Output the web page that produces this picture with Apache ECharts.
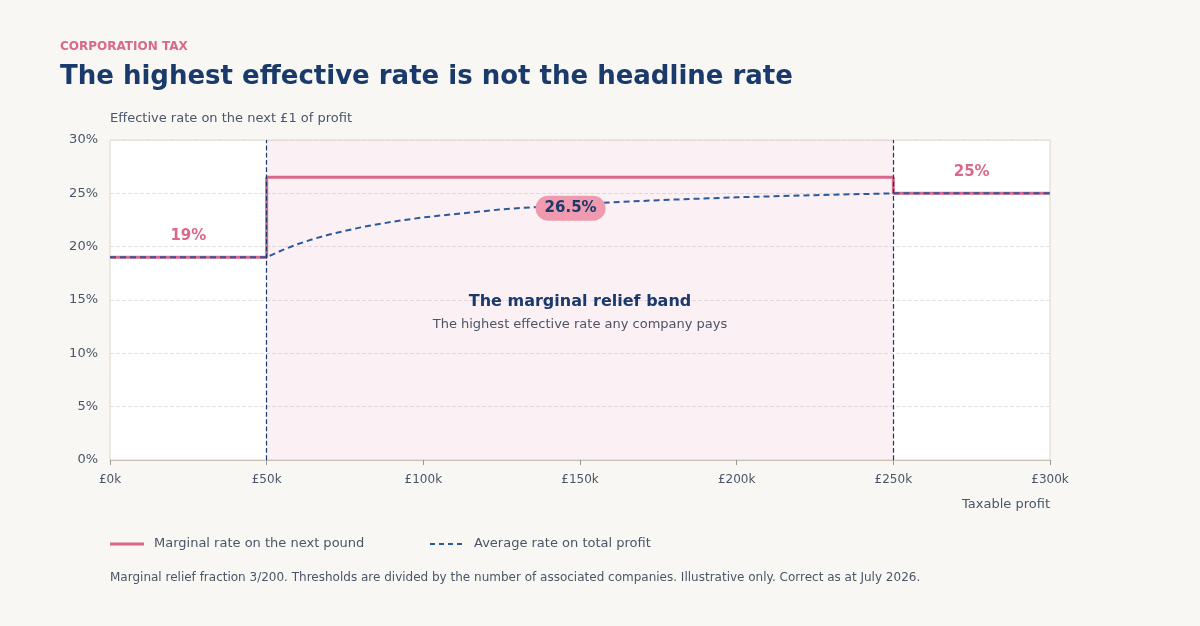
<!DOCTYPE html>
<html><head><meta charset="utf-8">
<script src="https://cdn.jsdelivr.net/npm/echarts@6/dist/echarts.min.js"></script>
<style>html,body{margin:0;background:#f9f7f3}#c{width:1200px;height:626px}</style>
</head><body><div id="c"></div>
<script>
const xTicks = [0, 50, 100, 150, 200, 250, 300];
const marginal = [[0,19],[50,19],[50,26.5],[250,26.5],[250,25],[300,25]];
const average = [[0,19],[50,19],[55,19.68],[60,20.25],[65,20.73],[70,21.14],[80,21.81],[90,22.33],[100,22.75],[125,23.5],[150,24.0],[175,24.36],[200,24.63],[225,24.83],[250,25.0],[300,25.0]];
const thresholds = [50, 250];
const rateLabels = [[25,21,'19%'],[275,27,'25%']];
const peakLabel = [147,23.6,'26.5%'];
const bandText = [[150,14.8,'The marginal relief band','b'],[150,12.7,'The highest effective rate any company pays','s']];

const ch = echarts.init(document.getElementById('c'));
const grey = '#4a5568', navy = '#1a3a6b', pink = '#d9698a', blue = '#2a5a9a';
const FF = 'DejaVu Sans';
const T = (o)=>Object.assign({fontFamily:FF},o);
ch.setOption({
  backgroundColor:'#f9f7f3',
  animation:false,
  textStyle:{fontFamily:FF},
  grid:{left:110,right:150,top:140,bottom:166,show:true,backgroundColor:'#fff',borderColor:'#ddd6c8',borderWidth:1},
  graphic:[
    {type:'text',left:60,top:41,style:T({text:'CORPORATION TAX',fill:pink,fontWeight:'bold',fontSize:12,letterSpacing:1.5})},
    {type:'text',left:60,top:64,style:T({text:'The highest effective rate is not the headline rate',fill:navy,fontWeight:'bold',fontSize:26})},
    {type:'text',left:110,top:112,style:T({text:'Effective rate on the next £1 of profit',fill:grey,fontSize:13})},
    {type:'text',right:150,top:498,style:T({text:'Taxable profit',fill:grey,fontSize:13})},
    {type:'line',shape:{x1:110,y1:544,x2:144,y2:544},style:{stroke:pink,lineWidth:3}},
    {type:'text',left:154,top:537,style:T({text:'Marginal rate on the next pound',fill:grey,fontSize:13})},
    {type:'line',shape:{x1:430,y1:544,x2:464,y2:544},style:{stroke:blue,lineWidth:2,lineDash:[5,4]}},
    {type:'text',left:474,top:537,style:T({text:'Average rate on total profit',fill:grey,fontSize:13})},
    {type:'text',left:110,top:572,style:T({text:'Marginal relief fraction 3/200. Thresholds are divided by the number of associated companies. Illustrative only. Correct as at July 2026.',fill:grey,fontSize:12})}
  ],
  xAxis:{type:'value',min:0,max:300,interval:50,
    axisLine:{show:true,lineStyle:{color:'#c9c2b4'}},axisTick:{show:true,length:5,lineStyle:{color:'#999'}},
    splitLine:{show:false},
    axisLabel:{color:grey,fontSize:12,margin:14,formatter:v=>xTicks.includes(v)?'£'+v+'k':''}},
  yAxis:{type:'value',min:0,max:30,interval:5,
    axisLine:{show:false},axisTick:{show:false},
    splitLine:{lineStyle:{color:'#e2e2e2',type:'dashed'}},
    axisLabel:{color:grey,fontSize:13,formatter:'{value}%',margin:12}},
  series:[
    {type:'line',data:marginal,symbol:'none',lineStyle:{color:pink,width:3},z:3,
      markArea:{silent:true,itemStyle:{color:'rgba(217,105,138,0.1)'},data:[[{xAxis:thresholds[0]},{xAxis:thresholds[1]}]]},
      markLine:{silent:true,symbol:'none',label:{show:false},lineStyle:{color:navy,type:'dashed',width:1.2},data:thresholds.map(t=>({xAxis:t}))}},
    {type:'line',data:average,symbol:'none',smooth:false,lineStyle:{color:blue,width:2,type:[6,4]},z:4},
    {type:'scatter',symbolSize:0,z:5,itemStyle:{opacity:1},data:rateLabels.map(d=>({value:[d[0],d[1]],name:d[2]})),
      label:{show:true,position:'inside',formatter:p=>p.name,color:pink,fontWeight:'bold',fontSize:15}},
    {type:'scatter',symbolSize:0,z:6,itemStyle:{opacity:1},data:[{value:[peakLabel[0],peakLabel[1]],name:peakLabel[2]}],
      label:{show:true,position:'inside',formatter:p=>p.name,color:navy,fontWeight:'bold',fontSize:15,
        backgroundColor:'#ef9aae',borderRadius:13,padding:[5,9]}},
    {type:'scatter',symbolSize:0,z:6,itemStyle:{opacity:1},data:bandText.map(d=>({value:[d[0],d[1]],name:d[2],k:d[3]})),
      label:{show:true,position:'inside',formatter:p=>p.data.k==='b'?'{b|'+p.name+'}':'{s|'+p.name+'}',
        rich:{b:{color:navy,fontWeight:'bold',fontSize:16,fontFamily:FF},s:{color:grey,fontSize:13,fontFamily:FF}}}}
  ]
});
</script></body></html>
